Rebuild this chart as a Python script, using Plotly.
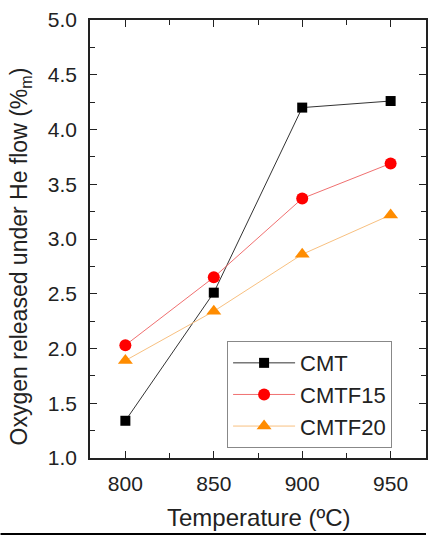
import plotly.graph_objects as go

temps = [800, 850, 900, 950]
cmt = [1.34, 2.51, 4.20, 4.26]
cmtf15 = [2.03, 2.65, 3.37, 3.69]
cmtf20 = [1.89, 2.34, 2.86, 3.22]
x_ticks = [800, 850, 900, 950]
y_ticks = [1.0, 1.5, 2.0, 2.5, 3.0, 3.5, 4.0, 4.5, 5.0]

FONT = "Liberation Sans, Arial, sans-serif"
TXT = "#222222"

fig = go.Figure()
fig.add_trace(go.Scatter(x=temps, y=cmt, name="CMT", mode="lines+markers",
                         line=dict(color="#333333", width=1),
                         marker=dict(symbol="square", size=10, color="black")))
fig.add_trace(go.Scatter(x=temps, y=cmtf15, name="CMTF15", mode="lines+markers",
                         line=dict(color="#f07070", width=1),
                         marker=dict(symbol="circle", size=12, color="#ff0000")))
fig.add_trace(go.Scatter(x=temps, y=cmtf20, name="CMTF20", mode="lines+markers",
                         line=dict(color="#f8c080", width=1),
                         marker=dict(symbol="triangle-up", size=13, color="#ff8c00")))

axis_common = dict(showline=True, linecolor=TXT, linewidth=1.5, mirror="ticks",
                   ticks="inside", ticklen=7, tickwidth=1.2, tickcolor=TXT,
                   showgrid=False, zeroline=False,
                   tickfont=dict(family=FONT, size=21, color=TXT))

fig.update_xaxes(range=[780, 970], tickvals=x_ticks,
                 minor=dict(ticks="inside", ticklen=5, dtick=25, tick0=775, tickcolor=TXT),
                 ticklabelstandoff=6,
                 **axis_common)
fig.update_yaxes(range=[1.0, 5.0], tickvals=y_ticks, tickformat=".1f",
                 minor=dict(ticks="inside", ticklen=5, dtick=0.25, tick0=1.0, tickcolor=TXT),
                 ticklabelstandoff=7,
                 **axis_common)

fig.update_layout(
    width=432, height=535,
    margin=dict(l=90, r=4, t=20, b=77),
    plot_bgcolor="white", paper_bgcolor="white",
    showlegend=True,
    legend=dict(x=0.408, y=0.267, xanchor="left", yanchor="top",
                bordercolor="#888888", borderwidth=1, bgcolor="white",
                font=dict(family=FONT, size=22, color=TXT),
                itemwidth=62, tracegroupgap=0),
)

fig.add_annotation(text="Temperature (ºC)", xref="paper", yref="paper",
                   x=0.5, y=(458 - 517) / 438, xanchor="center", yanchor="middle",
                   showarrow=False, font=dict(family=FONT, size=24, color=TXT))
fig.add_annotation(text="Oxygen released under He flow (%<sub>m</sub>)", xref="paper", yref="paper",
                   x=(20 - 90) / 338, y=(458 - 256) / 438, xanchor="center", yanchor="middle",
                   textangle=-90, showarrow=False, font=dict(family=FONT, size=23, color=TXT))

fig.add_shape(type="line", xref="paper", yref="paper", x0=-90/338, x1=1.0,
              y0=(458-534)/438, y1=(458-534)/438, line=dict(color="black", width=2))

fig.write_html("out.html")
